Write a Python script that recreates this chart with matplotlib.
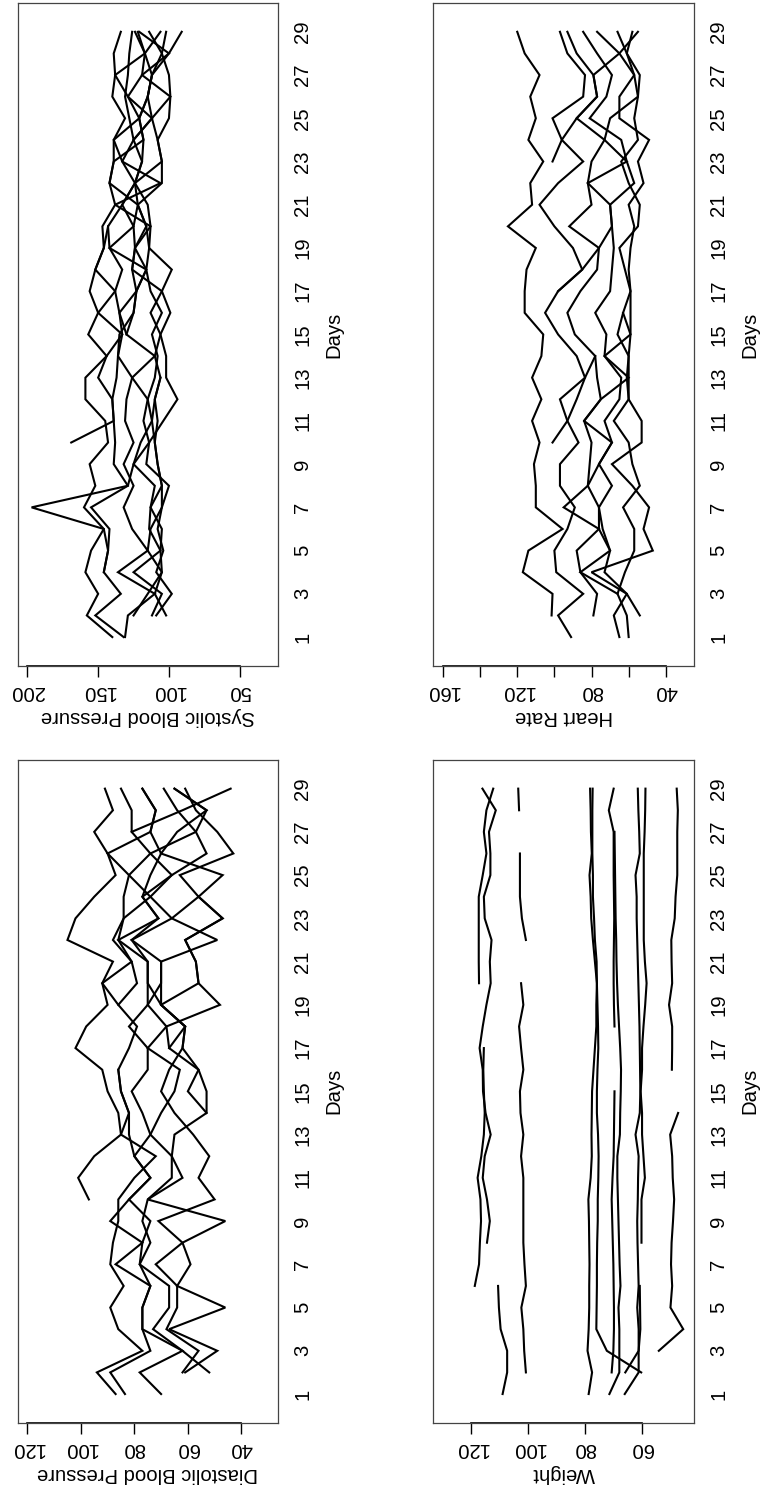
import numpy as np
import matplotlib
matplotlib.use("Agg")
import matplotlib.pyplot as plt

plt.rcParams['font.family'] = ['Liberation Sans', 'DejaVu Sans']
nan = np.nan

days = list(range(1, 30))
day_ticks = list(range(1, 30, 2))

# ---- Systolic blood pressure, one list per patient (days 1..29) ----
sys_p1 = [140, 158, 150, 159, 155, 146, 160, 152, 156, 143, 145, 159, 159, 144, 157, 150, 156, 152, 146, 147, 138, 142, 139, 139, 131, 140, 138, 139, 134]
sys_p2 = [132, 152, 134, 146, 143, 142, 155, 129, 139, 138, 139, 140, 137, 136, 133, 135, 138, 133, 142, 143, 133, 124, 133, 125, 128, 131, 129, 128, 126]
sys_p3 = [131, 129, 110, 136, 115, 126, 132, 125, 132, 125, 131, 130, 126, 110, 130, 125, 123, 126, 124, 125, 122, 142, 139, 118, 121, 129, 119, 117, 124]
sys_p4 = [nan, 112, 105, 125, 106, 114, 113, 110, 125, 114, 118, 115, 110, 108, 112, 105, 113, 116, 114, 113, 115, 124, 119, 125, 112, 115, 112, 117, 122]
sys_p5 = [nan, 109, 98, 109, 104, 108, 105, 105, 108, 110, 112, 110, 106, 110, 106, 99, 105, 98, 114, 116, 122, 105, 105, 108, 100, 99, 100, 105, 114]
sys_p6 = [nan, 102, 110, 105, 115, 113, 105, 100, 116, 114, 104, 94, 102, 102, 106, 113, 105, 126, 124, 113, 138, 106, 133, 139, 121, 115, 112, 100, 91]
sys_p7 = [nan, nan, nan, 146, 143, 146, 197, 129, 125, 120, 112, 115, 126, 136, 135, 125, 123, 116, 124, 116, 122, 124, 119, 118, 121, 115, 112, 105, 102]
sys_p8 = [nan, nan, nan, nan, nan, nan, nan, nan, nan, 169, 139, 140, 150, 144, 133, 150, 138, 152, 146, 143, nan, nan, nan, nan, nan, nan, nan, nan, nan]
sys_p9 = [nan, nan, nan, nan, nan, nan, nan, nan, nan, nan, nan, nan, nan, nan, nan, nan, nan, nan, nan, nan, nan, nan, nan, 125, 112, 129, 138, 117, 106]
sys_p10 = [nan, 125, 115, 105, 106, 105, 113, 105, 108, 110, 108, 110, 106, nan, nan, nan, nan, nan, nan, nan, nan, nan, nan, nan, nan, nan, nan, nan, nan]
sys_p11 = [nan, nan, nan, nan, nan, nan, nan, nan, nan, nan, nan, nan, nan, nan, 130, 135, 123, 116, 142, 125, 133, 124, 105, 108, 112, 99, 119, 100, 121]
systolic = [sys_p1, sys_p2, sys_p3, sys_p4, sys_p5, sys_p6, sys_p7, sys_p8, sys_p9, sys_p10, sys_p11]

# ---- Heart rate ----
hr_p1 = [nan, 101.5, 101, 117, 114, 95.6, 110, 110, 111, 108, 112, 107, 112, 107, 106, 116, 116, 115, 110, 125, 112, 113, 106, 114, 110, 113, 108, 116, 120]
hr_p2 = [91, 98, 84.5, 99, 100, 93, 89, 97, 97, 87, 93, 97, 83.5, 88, 98, 105, 98, 85, 90, 100, 108, 98, 84.5, 96, 101, 84.5, 83.5, 93, 97]
hr_p3 = [nan, 79, 77, 86, 88, 76, 95, 82, 81, 80, 84, 75, 77, 78, 89, 93, 86, 77, 76, 92, 80, 82, 80, 73, 88, 77, 79, 88, 93]
hr_p4 = [65, 68, 61, 73, 70, 74, 76, 69, 76, 69, 73, 65, 64, 73, 72, 78, 70, 69, 68, 69, 70, 57, 61, 64, 81, 72, 69, 77, 84.5]
hr_p5 = [60, 61, 66, 62, 57, 57, 63, 54, 58, 60, 68, 60, 60, 60, 66, 63, 59, 60, 59, 57, 60, 52, 55, 49, 65, 65, 57, 65, 77]
hr_p6 = [nan, 54, 61, 80, 47, 52, 49, 58, 69, 53, 53, 60, 61, 60, 59, 59, 59, 62, 65, 55, 54, 60, 64, 55, 57, 55, 54, 61, 66]
hr_p7 = [nan, nan, nan, nan, nan, nan, nan, nan, nan, 101, 93, 88, 83.5, 78, nan, nan, nan, nan, nan, nan, nan, nan, nan, nan, nan, nan, nan, nan, nan]
hr_p8 = [nan, nan, nan, nan, nan, nan, nan, nan, nan, nan, nan, nan, nan, nan, nan, nan, 98, 85, 76, 69, 70, 82, 61, 73, 70, 55, 57, 61, 58]
hr_p9 = [nan, nan, nan, nan, nan, nan, nan, nan, nan, nan, nan, nan, nan, nan, nan, nan, nan, nan, nan, nan, nan, nan, 101, 96, 88, 77, 79, 65, 55]
hr_p10 = [nan, nan, 66, 86, 70, 76, 76, 82, 76, 69, 84, 75, 60, 73, 59, 63, nan, nan, nan, nan, nan, nan, nan, nan, nan, nan, nan, nan, nan]
heart = [hr_p1, hr_p2, hr_p3, hr_p4, hr_p5, hr_p6, hr_p7, hr_p8, hr_p9, hr_p10]

# ---- Diastolic blood pressure ----
dia_p1 = [87, 94, 77, 86, 89, 84, 89, 88, 86, 86, 80, 72, 85, 86, 90, 92, 102, 98, 90, 92, 88, 105, 102, 95, 87, 90, 95, 88, 91]
dia_p2 = [83.5, 89, 74, 77, 77, 74, 87, 77, 89, 82, 74, 80, 82, 82, 85, 86, 82, 79, 86, 79, 81, 88, 84, 84, 82, 74, 81, 81, 85]
dia_p3 = [70, 78, 62, 73, 67, 67, 78, 74, 77, 75, 66, 66, 74, 77, 81, 75, 75, 82, 75, 75, 75, 86, 71, 77, 74, 70, 74, 72, 77]
dia_p4 = [nan, 62, 56, 68, 64, 64, 72, 62, 71, 50, 56, 52, 58, 65, 70, 67, 62, 61, 70, 70, 70, 81, 66, 74, 66, 53, 57, 64, 69]
dia_p5 = [nan, 61, 49, 67, 46, 64, 59, 62, 46, 75, 62, 66, 65, 53, 53, 56, 67, 68, 48, 56, 57, 61, 47, 56, 63, 43, 49, 57, 61]
dia_p6 = [nan, 52, 62, 77, 77, 74, 78, 77, 74, 82, 74, 80, 74, 70, 65, 63, 75, 68, 75, 70, 70, 49, 66, 56, 47, 70, 64, 53, 65]
dia_p7 = [nan, nan, nan, nan, nan, nan, nan, nan, nan, 97, 101, 95, 85, 82, 85, 86, nan, nan, nan, nan, nan, nan, nan, nan, nan, nan, nan, nan, nan]
dia_p8 = [nan, nan, nan, nan, nan, nan, nan, nan, nan, nan, nan, nan, nan, nan, nan, nan, nan, nan, 86, 92, 81, 86, 84, 74, 82, 90, 74, 72, 77]
dia_p9 = [nan, nan, nan, nan, nan, nan, nan, nan, nan, nan, nan, nan, nan, 53, 60, 56, 62, 61, 70, 56, 57, 61, 47, 56, nan, nan, nan, nan, nan]
dia_p10 = [nan, nan, nan, nan, nan, nan, nan, nan, nan, nan, nan, nan, nan, nan, nan, nan, nan, nan, nan, nan, nan, nan, nan, nan, nan, nan, 81, 62, 44]
dia_p11 = [nan, nan, nan, nan, nan, nan, nan, nan, nan, nan, nan, nan, nan, nan, nan, nan, 67, 61, 70, 75, 75, 81, 71, 77, 66, 74, 57, 53, 65]
diastolic = [dia_p1, dia_p2, dia_p3, dia_p4, dia_p5, dia_p6, dia_p7, dia_p8, dia_p9, dia_p10, dia_p11]

# ---- Weight ----
wt_p1 = [nan, nan, nan, nan, nan, nan, nan, 114.5, 113.5, 114.5, 116, 115.3, 113.2, 115, 115.9, 116, 117.1, 116, 114.7, 113.2, 113.5, 112.9, 115.3, 115.6, 113.3, 113.3, 113.8, 111.4, 116.1]
wt_p2 = [nan, nan, nan, nan, nan, nan, nan, nan, nan, nan, nan, nan, nan, nan, nan, nan, nan, nan, nan, 117.3, 117.4, 117.4, 117.4, 117.4, 116, 114.7, 115.6, 114.7, 112.3]
wt_p3 = [nan, nan, nan, nan, nan, 118.8, 117.3, 117, 116.6, 116.8, 117.8, 116.5, 115.6, 115.3, 115.6, 115.8, 115.6, nan, nan, nan, nan, nan, nan, nan, nan, nan, nan, nan, nan]
wt_p4 = [109, 107.4, 107.4, 109.7, 110.3, 110.6, nan, nan, nan, nan, nan, nan, nan, nan, nan, nan, nan, nan, nan, nan, nan, nan, nan, nan, nan, nan, nan, nan, nan]
wt_p5 = [nan, 100.8, 101.4, 101.7, 102.4, 100.8, 101.3, 101.7, 101.7, 101.7, 101.7, 102.5, 101.7, 102.7, 102.9, 101.7, 102.5, 103.2, 101.7, 102.5, nan, 100.8, 102.2, 102.9, 102.9, 102.9, nan, 103.2, 103.5]
wt_p6 = [78.7, 77.5, 79.1, 78.7, 78.5, 78.5, 78.4, 78.5, 78.6, 78.8, 78.0, 77.6, 77.7, 77.6, 77.5, 77.0, 76.5, 76.0, 76.0, 75.8, 76.5, 77.2, 77.8, 78.0, 78.4, 77.6, 77.9, 78.0, 78.2]
wt_p7 = [nan, 60.2, 72.3, 76.0, 75.9, 75.8, 75.8, 75.7, 75.5, 75.5, 75.3, 75.2, 75.4, 75.8, 75.8, 75.6, 75.3, 75.4, 75.6, 75.8, 75.9, 76.5, 76.8, 77.2, 77.2, 77.4, 77.4, 77.4, 77.3]
wt_p8 = [71.4, 67.9, 67.9, 67.9, 68.2, 67.5, 67.8, 68.0, 68.2, 68.4, 68.6, 68.6, 67.7, 67.6, 67.4, 67.3, 67.6, 68.0, 68.4, 68.7, 68.9, 69.0, 69.2, 69.3, 69.4, 69.5, 69.6, nan, nan]
wt_p9 = [nan, 70.6, 70.0, 69.8, 69.8, 69.9, 70.0, 70.2, 70.4, 70.6, 70.3, 69.9, 69.8, 69.7, 69.6, nan, nan, nan, nan, nan, nan, nan, nan, nan, nan, nan, nan, nan, nan]
wt_p10 = [nan, nan, nan, nan, nan, nan, nan, nan, nan, nan, nan, nan, nan, nan, nan, nan, nan, 69.6, 69.8, 69.9, 69.9, 69.8, 69.7, 69.8, 69.9, 69.9, 69.9, 71.6, 69.9]
wt_p11 = [nan, 65.8, 61.1, 61.1, 61.6, 61.1, 61.3, 61.5, 61.6, 61.4, 61.3, 61.1, 62.2, 60.7, 60.5, 60.6, 60.7, 60.8, 61.0, 61.2, 61.4, 61.6, 61.8, 61.8, 62.2, 60.7, 60.9, 61.2, 61.4]
wt_p12 = [nan, nan, nan, nan, nan, nan, nan, 60.1, 60.1, 60.1, 58.9, 59.4, 59.9, 59.9, 60.4, 59.9, 59.9, 59.4, 58.8, 58.3, 58.9, 59.3, 59.3, 59.3, 59.3, 59.3, 59.0, 58.8, 58.7]
wt_p13 = [66.0, 61.1, 61.1, 60.5, 60.6, 60.7, nan, nan, nan, nan, nan, nan, nan, nan, nan, nan, nan, nan, nan, nan, nan, nan, nan, nan, nan, nan, nan, nan, nan]
wt_p14 = [nan, nan, 54.0, 45.4, 49.9, 49.3, 49.7, 49.5, 49.0, 48.6, 49.1, 49.3, 50.0, 47.2, nan, nan, nan, nan, nan, nan, nan, nan, nan, nan, nan, nan, nan, nan, nan]
wt_p15 = [nan, nan, nan, nan, nan, nan, nan, nan, nan, nan, nan, nan, nan, nan, nan, 49.4, 49.3, 49.3, 50.4, 49.3, 49.5, 49.6, 48.4, 48.1, 47.5, 47.5, 47.5, 47.3, 47.7]
weight = [wt_p1, wt_p2, wt_p3, wt_p4, wt_p5, wt_p6, wt_p7, wt_p8, wt_p9, wt_p10, wt_p11, wt_p12, wt_p13, wt_p14, wt_p15]

panels = [
    # (series, value range, tick positions, tick labels, axis title, axes rect)
    (systolic, (30, 200), [50, 100, 150, 200], ['50', '100', '150', '200'],
     'Systolic Blood Pressure', [0.0232, 0.5533, 0.3408, 0.4448]),
    (heart, (30, 160), [40, 60, 80, 100, 120, 140, 160], ['40', '', '80', '', '120', '', '160'],
     'Heart Rate', [0.5679, 0.5533, 0.3417, 0.4448]),
    (diastolic, (30, 120), [40, 60, 80, 100, 120], ['40', '60', '80', '100', '120'],
     'Diastolic Blood Pressure', [0.0232, 0.0456, 0.3408, 0.4449]),
    (weight, (45, 130), [60, 80, 100, 120], ['60', '80', '100', '120'],
     'Weight', [0.5679, 0.0456, 0.3417, 0.4449]),
]

fig = plt.figure(figsize=(7.63, 14.91), dpi=100)
FS = 14.6

for series, (lo, hi), vt, vl, title, rect in panels:
    ax = fig.add_axes(rect)
    for s in series:
        ax.plot(s, days, color='black', lw=1.5, solid_joinstyle='miter')
    pad = 0.04 * (hi - lo)
    ax.set_xlim(hi + pad, lo - pad)
    ax.set_ylim(-0.34, 30.34)

    ax.set_xticks(vt)
    ax.set_xticklabels(vl, rotation=180, fontsize=FS)
    ax.tick_params(axis='x', length=8, width=1, pad=3.5, color='black')
    ax.plot([vt[0], vt[-1]], [0, 0], color='black', lw=1.2,
            transform=ax.get_xaxis_transform(), clip_on=False)

    ax.yaxis.tick_right()
    ax.set_yticks(day_ticks)
    ax.set_yticklabels([str(d) for d in day_ticks], rotation=90, va='center', fontsize=FS)
    ax.tick_params(axis='y', length=0, pad=11)
    ax.yaxis.set_label_position('right')
    ax.set_ylabel('Days', rotation=90, fontsize=FS, labelpad=9)
    ax.set_xlabel(title, rotation=180, fontsize=FS, labelpad=4)

    for sp in ax.spines.values():
        sp.set_color('#444444')
        sp.set_linewidth(0.9)

fig.savefig('out.png', dpi=100, facecolor='white')
